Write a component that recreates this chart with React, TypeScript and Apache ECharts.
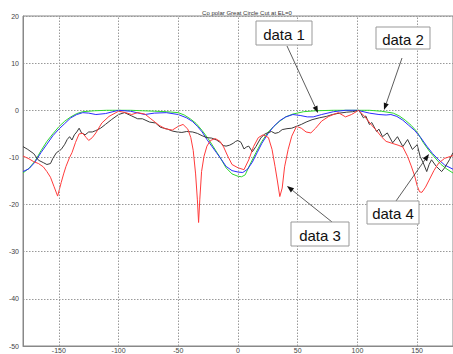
import React, { useEffect, useRef } from "react";
import * as echarts from "echarts";

const TITLE = "Co polar Great Circle Cut at EL=0";
const xTicks = [-150, -100, -50, 0, 50, 100, 150];

// data 1 (blue)
const data1: number[][] = [
  [-180, -13], [-175, -12.4], [-170, -11], [-165, -9], [-160, -7.2], [-155, -5.4], [-150, -4], [-145, -2.8],
  [-140, -1.6], [-135, -0.9], [-130, -0.5], [-125, -0.6], [-119, -0.9], [-111, -0.7], [-100, 0], [-90, -0.2],
  [-78, -0.9], [-70, -0.6], [-60, -0.5], [-50, -0.9], [-43, -1.6], [-38, -2.4], [-34, -3.4], [-30, -4.6],
  [-26, -6.2], [-22, -7.6], [-18, -9], [-14, -10.4], [-10, -11.9], [-5, -12.8], [0, -13.1], [4, -13.2],
  [8, -12.5], [12, -11], [16, -9], [20, -7], [25, -5], [30, -3.4], [35, -2.2], [40, -1.4], [46, -0.9],
  [52, -1.1], [58, -1.4], [63, -1.4], [70, -0.9], [80, -0.3], [90, 0], [100, 0], [110, -0.6], [118, -0.9],
  [124, -1], [128, -0.9], [133, -1.3], [138, -2.1], [143, -3.2], [148, -4.3], [153, -5.8], [158, -7.6],
  [163, -9.2], [168, -10.5], [173, -11.6], [180, -12.5],
];

// data 2 (green)
const data2: number[][] = [
  [-180, -13.3], [-175, -12.3], [-170, -10.8], [-165, -8.6], [-160, -6.6], [-155, -5], [-150, -3.5],
  [-145, -2.3], [-140, -1.4], [-135, -0.7], [-130, -0.3], [-120, -0.1], [-110, 0], [-100, 0], [-90, 0],
  [-80, -0.1], [-70, -0.2], [-60, -0.3], [-50, -0.5], [-45, -1], [-40, -1.8], [-35, -2.8], [-30, -4.3],
  [-25, -6], [-20, -8], [-15, -10], [-10, -12.2], [-5, -13.5], [0, -14], [3, -14.1], [6, -13.7], [10, -11.5],
  [15, -9], [20, -6.6], [25, -4.7], [30, -3.4], [35, -2.3], [40, -1.4], [46, -0.8], [55, -0.3], [65, -0.1],
  [80, 0], [95, 0], [110, 0], [120, -0.2], [130, -0.6], [135, -1.2], [140, -2.1], [145, -3.2], [150, -4.6],
  [155, -6.8], [160, -8.6], [165, -10.1], [170, -11.5], [175, -12.5], [180, -13.3],
];

// data 3 (red)
const data3: number[][] = [
  [-180, -9.7], [-175, -10.3], [-171, -10.9], [-167, -11.3], [-163, -12], [-160, -13], [-157, -14.2],
  [-154, -16.2], [-151, -18.2], [-148, -15.3], [-146, -13.5], [-144, -11.9], [-141, -10], [-139, -9],
  [-136, -6.8], [-133, -5], [-130, -4.9], [-127, -5.8], [-125, -6.4], [-122, -5.8], [-119, -4.8],
  [-114, -2.7], [-108, -1.3], [-100, -0.2], [-94, -0.5], [-89, -0.9], [-84, -0.5], [-78, -0.8], [-73, -1.8],
  [-66, -3.2], [-61, -3.9], [-55, -4.2], [-50, -3.4], [-46, -3], [-42, -4], [-39.5, -5.8], [-37.5, -8.5],
  [-35.5, -13.5], [-34, -19], [-33, -23.8], [-32, -19], [-30.5, -13], [-28.5, -9.8], [-26, -7.6],
  [-23, -6.4], [-19, -6], [-15, -6.6], [-12, -7.8], [-9, -9.5], [-5, -11.5], [0, -12.2], [5, -12.6],
  [9, -10.5], [13, -7.7], [17, -5.8], [21, -5.2], [25.5, -5.8], [28.5, -8.3], [31, -11.9], [33, -15],
  [35, -18.3], [37, -16.5], [39, -12], [42, -8.3], [45, -5.5], [49, -3.4], [53, -3.8], [57, -4.6],
  [61, -4.8], [65, -3.8], [70, -2.3], [76, -1.3], [84, -0.5], [90, -1.4], [95, -0.9], [101, 0],
  [106, -1.3], [112, -3.2], [116, -4.3], [120, -5.6], [124, -6.6], [129, -7], [134, -7.4], [138, -7.8],
  [142, -9.8], [145, -11.8], [148, -14], [150, -16], [152, -17.3], [154, -17.4], [157, -16.3], [160, -14.8],
  [164, -12.8], [168, -11.2], [173, -10.2], [180, -9.6],
];

// data 4 (black)
const data4: number[][] = [
  [-180, -7.7], [-176, -8.3], [-171, -9.2], [-167, -10.6], [-163, -11.1], [-160, -11.5], [-157, -11.3],
  [-155, -10.2], [-152, -9], [-148, -8.3], [-145, -7.2], [-143, -6.2], [-141, -5.6], [-139, -6.3],
  [-137, -5.2], [-135, -4.6], [-133, -3.8], [-131, -4.8], [-128, -5.2], [-125, -4.6], [-122, -4.6],
  [-119, -4.3], [-115, -3.8], [-111, -3], [-106, -2], [-100, -0.9], [-95, -0.5], [-89, -1.2], [-84, -1.8],
  [-80, -1.8], [-74, -2.5], [-69, -2.7], [-65, -3.6], [-59, -4], [-55, -4.4], [-51, -4.6], [-47, -4.7],
  [-43, -4.5], [-38, -4.6], [-34, -4.9], [-30, -5.4], [-26, -5.8], [-22, -5.9], [-18, -6.3], [-15, -6.8],
  [-12, -7.5], [-10, -7.6], [-7, -7.4], [-4, -7], [-2, -6.6], [0, -6.4], [2.5, -6.8], [5, -8.2], [7, -7.8],
  [9, -7.6], [12, -8.8], [15, -7.7], [19, -5.9], [22, -5.1], [24.5, -4.8], [28, -4.5], [31, -4.9],
  [34, -4.7], [37, -4.1], [41, -3.9], [45, -3.8], [49, -3.4], [53, -3], [57, -2.5], [62, -2], [68, -1.6],
  [74, -1.3], [79, -0.9], [85, -0.6], [91, -0.4], [96, -0.3], [101, 0], [103, -0.7], [105, -1.6],
  [107, -1.2], [110, -3], [112, -2.6], [116, -4.5], [118, -4], [121, -5.6], [125, -4.8], [129.5, -6.9],
  [133.5, -5.6], [138, -7.7], [142, -6.2], [146, -8.3], [150, -7.3], [152.5, -9.8], [155, -11.1],
  [158, -13], [160, -11.5], [162, -10.5], [166, -11.9], [170.5, -13], [173, -12.2], [177, -10.5], [180, -9],
];

type Note = { label: string; box: number[]; from: number[]; to: number[] };
const notes: Note[] = [
  { label: "data 1", box: [256, 21, 56, 24], from: [287, 46], to: [318, 113] },
  { label: "data 2", box: [376, 27, 54, 22], from: [402, 58], to: [384, 110] },
  { label: "data 3", box: [291, 222, 58, 24], from: [332, 222], to: [287, 186] },
  { label: "data 4", box: [367, 201, 52, 23], from: [396, 201], to: [429, 154] },
];

function noteGraphics(n: Note): any[] {
  const [bx, by, bw, bh] = n.box;
  const [x1, y1] = n.from;
  const [x2, y2] = n.to;
  const dx = x2 - x1, dy = y2 - y1;
  const len = Math.sqrt(dx * dx + dy * dy);
  const ux = dx / len, uy = dy / len;
  const hl = 7, hw = 2.6;
  const baseX = x2 - ux * hl, baseY = y2 - uy * hl;
  return [
    {
      type: "line",
      shape: { x1, y1, x2: baseX, y2: baseY },
      style: { stroke: "#333", lineWidth: 0.8 },
      z: 100,
    },
    {
      type: "polygon",
      shape: {
        points: [
          [x2, y2],
          [baseX - uy * hw, baseY + ux * hw],
          [baseX + uy * hw, baseY - ux * hw],
        ],
      },
      style: { fill: "#111" },
      z: 100,
    },
    {
      type: "rect",
      shape: { x: bx, y: by, width: bw, height: bh },
      style: { fill: "#fff", stroke: "#999", lineWidth: 1 },
      z: 100,
    },
    {
      type: "text",
      x: bx + bw / 2,
      y: by + bh / 2 + 1,
      style: {
        text: n.label,
        fill: "#111",
        font: "15px 'Liberation Sans', Arial, sans-serif",
        align: "center",
        verticalAlign: "middle",
      },
      z: 101,
    },
  ];
}

export default function App() {
  const ref = useRef<HTMLDivElement>(null);
  useEffect(() => {
    if (!ref.current) return;
    const chart = echarts.init(ref.current, undefined, { renderer: "svg" });
    const lineSeries = (name: string, data: number[][], color: string) => ({
      name,
      type: "line",
      data,
      showSymbol: false,
      symbol: "none",
      lineStyle: { color, width: 1 },
      itemStyle: { color },
      z: 3,
    });
    chart.setOption({
      animation: false,
      backgroundColor: "#fff",
      title: {
        text: TITLE,
        left: 242,
        top: 5,
        textAlign: "center",
        textStyle: { fontSize: 6, fontWeight: "normal", color: "#333", fontFamily: "'Liberation Sans', Arial" },
      },
      grid: {
        left: 23,
        top: 16,
        right: -9,
        bottom: 7,
        show: true,
        borderColor: "#888",
        borderWidth: 1,
        backgroundColor: "transparent",
      },
      xAxis: {
        type: "value",
        min: -180,
        max: 180,
        axisLine: { show: true, onZero: false, lineStyle: { color: "#888" } },
        axisTick: { show: false, customValues: xTicks },
        splitLine: { show: false },
        axisLabel: {
          customValues: xTicks,
          fontSize: 7,
          color: "#444",
          margin: 1,
          fontFamily: "'Liberation Sans', Arial",
        },
      },
      yAxis: {
        type: "value",
        min: -50,
        max: 20,
        interval: 10,
        axisLine: { show: true, onZero: false, lineStyle: { color: "#888" } },
        axisTick: { show: false },
        splitLine: { show: true, lineStyle: { color: "#999", type: [1.5, 1.5], width: 1 } },
        axisLabel: { fontSize: 7, color: "#444", margin: 4, fontFamily: "'Liberation Sans', Arial" },
      },
      series: [
        {
          name: "grid",
          type: "line",
          data: [],
          z: 1,
          markLine: {
            silent: true,
            symbol: "none",
            label: { show: false },
            lineStyle: { color: "#999", type: [1.5, 1.5], width: 1 },
            data: xTicks.map((v) => ({ xAxis: v })),
          },
        },
        lineSeries("data 2", data2, "#2ed82e"),
        lineSeries("data 1", data1, "#2a2aff"),
        lineSeries("data 4", data4, "#3a3a3a"),
        lineSeries("data 3", data3, "#ff3b3b"),
      ],
      graphic: notes.flatMap(noteGraphics),
    });
    return () => chart.dispose();
  }, []);
  return (
    <div
      ref={ref}
      style={{ position: "absolute", left: 0, top: 0, width: 453, height: 354, background: "#fff" }}
    />
  );
}
